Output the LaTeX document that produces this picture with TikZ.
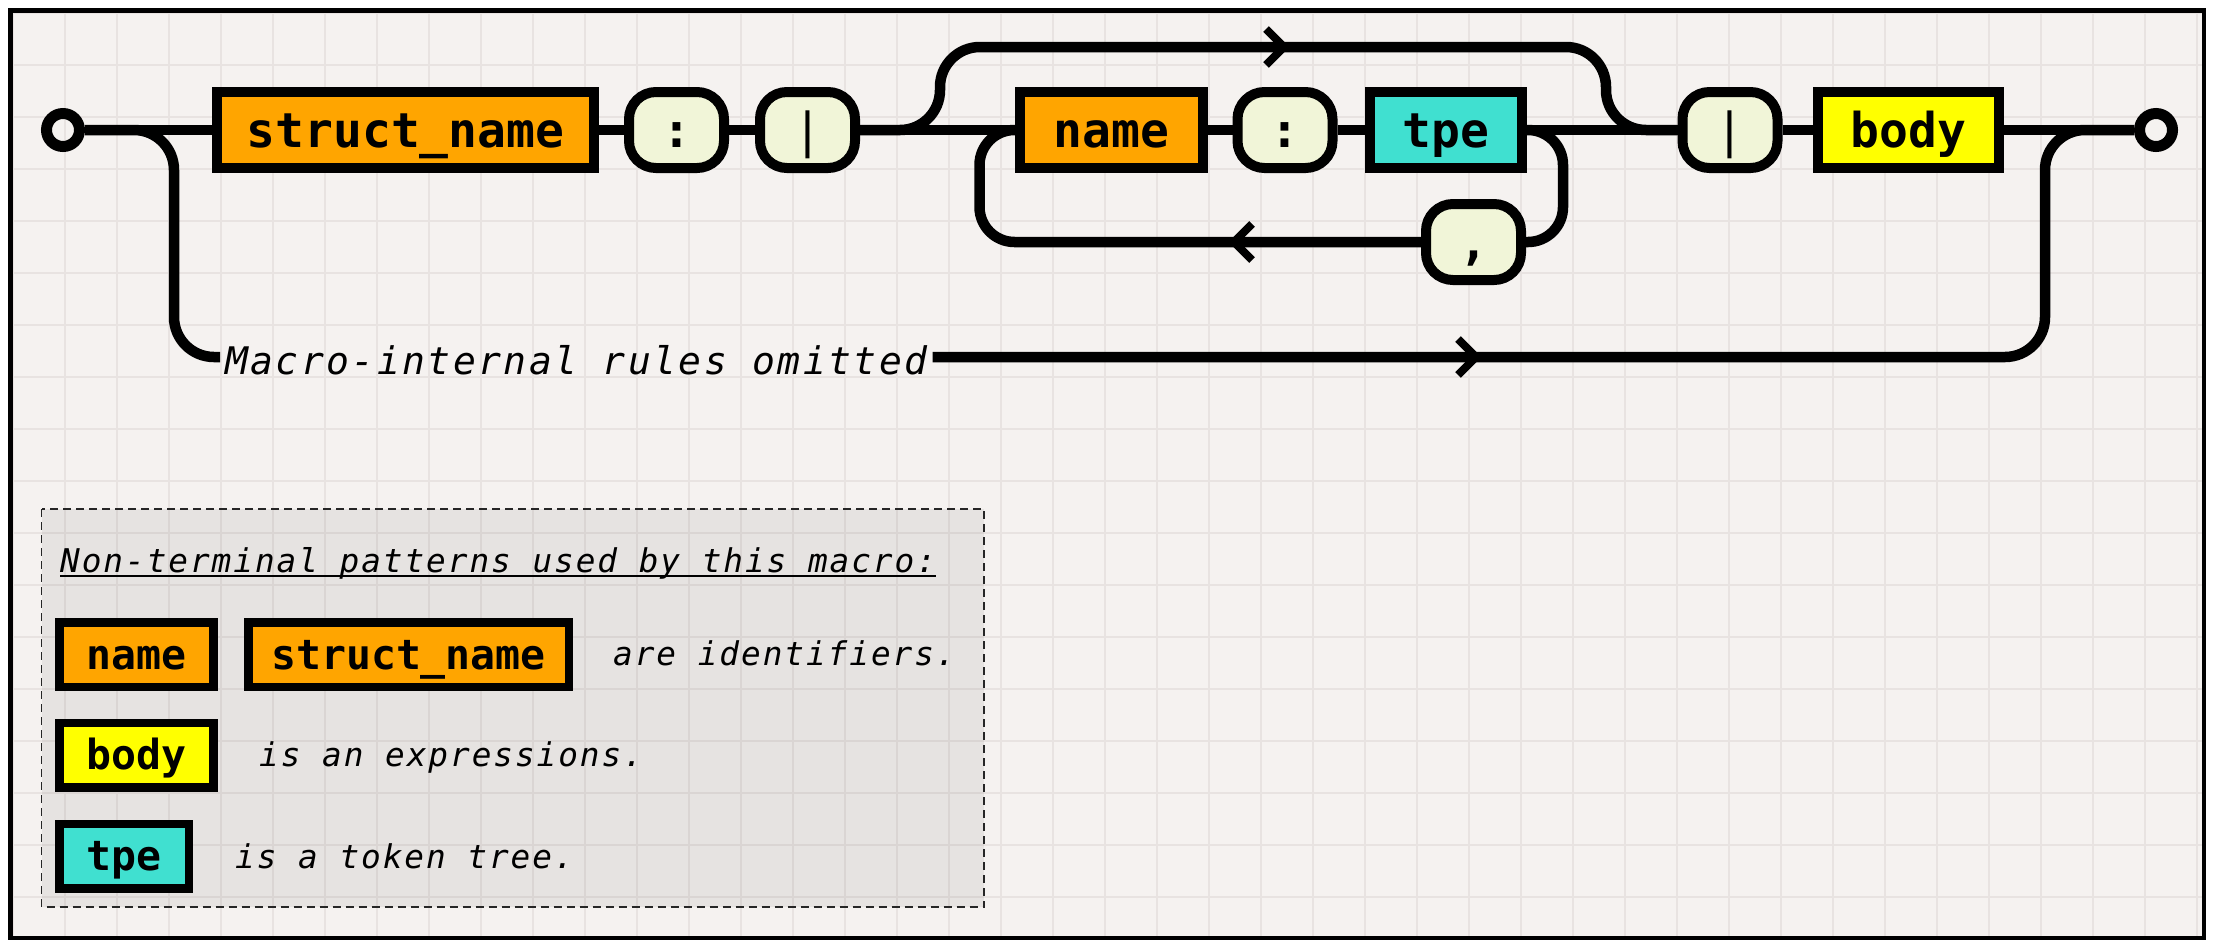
\documentclass[tikz,border=0pt]{standalone}
\usepackage{fontspec}
\newfontfamily\monoB{DejaVu Sans Mono}
\newfontfamily\monoI[LetterSpace=6.5]{DejaVu Sans Mono}
\newfontfamily\monoIL[LetterSpace=6]{DejaVu Sans Mono}
\newfontfamily\monoR{DejaVu Sans Mono}
\newcommand\ntfont{\monoB\bfseries\fontsize{48pt}{48pt}\selectfont}
\newcommand\ltfont{\monoB\bfseries\fontsize{41.5pt}{41.5pt}\selectfont}
\newcommand\barfont{\monoR\fontsize{48pt}{48pt}\selectfont}
\newcommand\itmain{\monoI\itshape\fontsize{38pt}{38pt}\selectfont}
\newcommand\itleg{\monoIL\itshape\fontsize{32.7pt}{32.7pt}\selectfont}
\definecolor{bgc}{HTML}{F5F2F0}
\definecolor{gridc}{HTML}{E8E3E1}
\definecolor{ntorange}{HTML}{FFA500}
\definecolor{ntyellow}{HTML}{FFFF00}
\definecolor{ntturq}{HTML}{40E0D0}
\definecolor{termfill}{HTML}{F1F5D8}
\tikzset{
  gridline/.style={draw=gridc, line width=2pt},
  track/.style={line width=10.5pt, line cap=butt},
  chev/.style={line width=8pt, line join=miter},
  nt/.style={draw, line width=10pt, minimum height=76pt, inner sep=0pt,
    font=\ntfont, text height=40pt, text depth=6pt},
  term/.style={draw, line width=10pt, rounded corners=27pt, fill=termfill,
    minimum height=76pt, minimum width=95pt, inner sep=0pt,
    font=\ntfont, text height=40pt, text depth=6pt},
  lnt/.style={draw, line width=8.5pt, minimum height=64.5pt, inner sep=0pt,
    font=\ltfont, text height=34pt, text depth=5pt},
  ltext/.style={font=\itleg, anchor=base west, inner sep=0pt},
  endpt/.style={circle, draw, line width=11pt, minimum size=33pt, inner sep=0pt},
  legendbox/.style={draw=black!85, line width=1.6pt, dash pattern=on 8pt off 5pt,
    fill=black, fill opacity=0.06}
}
\begin{document}
\begin{tikzpicture}[x=1pt,y=-1pt]
\useasboundingbox (0,0) rectangle (2214,946);
\fill[white] (0,0) rectangle (2214,946);
\fill[bgc] (10.5,10.5) rectangle (2204,938);
\begin{scope}
  \clip (10.5,10.5) rectangle (2204,938);
  \foreach \i in {0,...,42} \draw[gridline] ({13+52*\i},0) -- ({13+52*\i},946);
  \foreach \j in {0,...,17} \draw[gridline] (0,{13+52*\j}) -- (2214,{13+52*\j});
\end{scope}
\draw[line width=4.5pt] (10.5,10.5) rectangle (2204,938);

% legend
\draw[legendbox] (41.5,509) rectangle (984,907);
\node[ltext] (lt) at (60,572) {Non-terminal patterns used by this macro:};
\draw[line width=2pt] ([yshift=-4pt]lt.base west) -- ([yshift=-4pt]lt.base east);
\node[lnt, fill=ntorange, minimum width=154pt] (ln) at (136.25,654.5) {name};
\node[lnt, fill=ntorange, minimum width=320.5pt] (ls) at (408.5,654.5) {struct\_name};
\node[ltext] (la1) at (613,665) {are identifiers.};
\node[lnt, fill=ntyellow, minimum width=154pt] (lb) at (136.25,755.3) {body};
\node[ltext] (la2) at (259,766) {is an expressions.};
\node[lnt, fill=ntturq, minimum width=129.5pt] (lp) at (124,856) {tpe};
\node[ltext] (la3) at (235,868) {is a token tree.};

% diagram nodes
\node[endpt] (st) at (63,130) {};
\node[endpt] (en) at (2156,130) {};
\node[nt, fill=ntorange, minimum width=377pt] (sn) at (405.5,130) {struct\_name};
\node[term] (c1) at (676.5,130) {:};
\node[term, font=\barfont] (b1) at (807.5,130) {|};
\node[nt, fill=ntorange, minimum width=183pt] (nm) at (1111.5,130) {name};
\node[term] (c2) at (1285,130) {:};
\node[nt, fill=ntturq, minimum width=152pt] (tp) at (1446,130) {tpe};
\node[term] (cm) at (1473.5,242) {,};
\node[term, font=\barfont] (b2) at (1730,130) {|};
\node[nt, fill=ntyellow, minimum width=181pt] (bd) at (1908.5,130) {body};
\node[font=\itmain, anchor=west, inner xsep=5pt, inner ysep=0pt] (txt) at (220,360) {Macro-internal rules omitted};

% main track
\draw[track] (st.east) -- (sn.west);
\draw[track] (sn.east) -- (c1.west);
\draw[track] (c1.east) -- (b1.west);
\draw[track] (b1.east) -- (nm.west);
\draw[track] (nm.east) -- (c2.west);
\draw[track] (c2.east) -- (tp.west);
\draw[track] (tp.east) -- (b2.west);
\draw[track] (b2.east) -- (bd.west);
\draw[track] (bd.east) -- (en.west);

% bypass over the repeated group
\draw[track, rounded corners=40pt] (b1.east) -- (940,130) -- (940,47) -- (1606,47) -- (1606,130) -- (b2.west);
% loop back through comma
\draw[track, rounded corners=35pt] (tp.east) -- (1563,130) -- (1563,242) -- (cm.east);
\draw[track, rounded corners=35pt] (cm.west) -- (979.5,242) -- (979.5,130) -- (nm.west);
% lower branch
\draw[track, rounded corners=40pt] (st.east) -- (174,130) -- (174,357) -- (txt.west |- 0,357);
\draw[track, rounded corners=40pt] (txt.east |- 0,357) -- (2045,357) -- (2045,130) -- (en.west);

% arrow chevrons
\draw[chev] (1266,29) -- (1284,47) -- (1266,65);
\draw[chev] (1252,224) -- (1234,242) -- (1252,260);
\draw[chev] (1458,339) -- (1476,357) -- (1458,375);
\end{tikzpicture}
\end{document}
